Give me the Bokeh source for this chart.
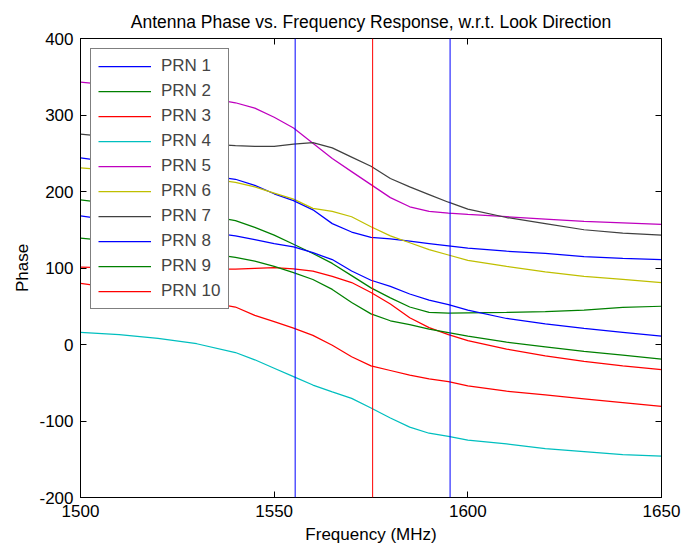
from bokeh.plotting import figure
from bokeh.models import (Range1d, FixedTicker, LinearAxis, Span, Legend, LegendItem, Title)
from bokeh.embed import file_html
from bokeh.resources import INLINE

freq = [1500, 1510, 1520, 1530, 1540, 1545, 1550, 1555, 1560, 1565, 1570,
        1575, 1580, 1585, 1590, 1595, 1600, 1610, 1620, 1630, 1640, 1650]

prn1 = [244, 237, 230, 223, 216, 208, 197, 188, 176, 158, 147,
        140, 138, 135, 132, 129, 126, 122, 119, 115, 112.5, 111]
prn2 = [189, 183, 177, 171, 162, 153, 143, 131, 119, 106, 90,
        74, 61, 49, 42, 41, 41.5, 42, 43, 45, 48.5, 50]
prn3 = [101, 100, 99, 98.5, 98.5, 99.5, 100.5, 99, 96, 89, 81,
        68, 53, 35, 22, 13, 5, -6, -15, -22, -28, -33]
prn4 = [15.7, 13, 8, 1, -10.5, -20, -31, -42, -53, -62, -70.5,
        -83, -96, -108, -116, -120, -125, -130, -136, -140, -144, -146]
prn5 = [343, 338, 332, 325, 316, 309, 297, 283, 263, 243, 226,
        209, 192, 180, 174, 171.6, 170, 167, 164, 161, 159, 157]
prn6 = [231, 227, 223, 219, 212, 206, 198, 190, 178, 174, 167,
        154, 142, 133, 124, 117, 110, 102, 95, 89, 85, 81]
prn7 = [275, 270, 266, 263, 260, 259, 259, 262, 264, 257, 245,
        233, 217, 206, 196, 186, 177, 166, 158, 150, 145.5, 143]
prn8 = [168, 161, 155, 149, 142, 137, 132, 127.5, 120, 111, 96,
        84, 76, 66, 58, 52, 45, 34, 27, 21, 16, 11]
prn9 = [139, 134, 128, 121, 114, 109, 102, 94, 85, 72, 55,
        40, 31, 26, 20, 15.5, 11, 3, -3, -9, -14, -19]
prn10 = [80, 73, 66, 58, 49, 38, 30, 21.5, 12, -1, -16,
         -28, -34, -40, -45, -48.5, -54, -61, -66, -71, -76, -81]

series_names = ["PRN 1", "PRN 2", "PRN 3", "PRN 4", "PRN 5",
                "PRN 6", "PRN 7", "PRN 8", "PRN 9", "PRN 10"]
series_values = [prn1, prn2, prn3, prn4, prn5, prn6, prn7, prn8, prn9, prn10]
series_colors = ["#0000ff", "#008000", "#ff0000", "#00bfbf", "#bf00bf",
                 "#bfbf00", "#404040", "#0000ff", "#008000", "#ff0000"]

marker_freqs = [1555.42, 1575.42, 1595.42]
marker_colors = ["#0000ff", "#ff0000", "#0000ff"]

x_ticks = [1500, 1550, 1600, 1650]
y_ticks = [-200, -100, 0, 100, 200, 300, 400]
y_tick_labels = ["-200", "-100", "0", "100", "200", "300", "400"]

FONT = "Liberation Sans"
FS = "17px"

p = figure(width=694, height=548, output_backend="svg", toolbar_location=None,
           x_range=Range1d(1500, 1650), y_range=Range1d(-200, 400),
           min_border_left=80, min_border_right=33, min_border_top=38,
           min_border_bottom=51, background_fill_color="white",
           border_fill_color="white")
p.grid.visible = False
p.outline_line_color = "black"
p.outline_line_width = 1

p.title = Title(text="Antenna Phase vs. Frequency Response, w.r.t. Look Direction",
                align="center", text_font=FONT, text_font_size="17.5px",
                text_font_style="normal", text_color="black", standoff=14)

def style_axis(ax, show_labels=True):
    ax.axis_line_color = "black"
    ax.axis_line_width = 1
    ax.major_tick_in = 6
    ax.major_tick_out = 0
    ax.minor_tick_line_color = None
    ax.major_tick_line_color = "black"
    ax.major_label_text_font = FONT
    ax.axis_label_text_font = FONT
    ax.axis_label_text_font_size = FS
    ax.axis_label_text_font_style = "normal"
    ax.axis_label_text_color = "black"
    if show_labels:
        ax.major_label_text_font_size = FS
        ax.major_label_text_color = "black"
    else:
        ax.major_label_text_font_size = "0px"
        ax.major_label_text_color = None
        ax.major_label_standoff = 0
        ax.axis_label_standoff = 0

p.xaxis.ticker = FixedTicker(ticks=x_ticks)
p.yaxis.ticker = FixedTicker(ticks=y_ticks)
p.yaxis.major_label_overrides = {t: s for t, s in zip(y_ticks, y_tick_labels)}
p.xaxis.axis_label = "Frequency (MHz)"
p.yaxis.axis_label = "Phase"
style_axis(p.xaxis[0])
style_axis(p.yaxis[0])
p.xaxis.major_label_standoff = 7
p.xaxis.axis_label_standoff = 5
p.yaxis.major_label_standoff = 7
p.yaxis.axis_label_standoff = 4

top_ax = LinearAxis(ticker=FixedTicker(ticks=x_ticks))
style_axis(top_ax, show_labels=False)
p.add_layout(top_ax, "above")
right_ax = LinearAxis(ticker=FixedTicker(ticks=y_ticks))
style_axis(right_ax, show_labels=False)
p.add_layout(right_ax, "right")

for f, c in zip(marker_freqs, marker_colors):
    p.add_layout(Span(location=f, dimension="height", line_color=c, line_width=1))

items = []
for name, vals, col in zip(series_names, series_values, series_colors):
    r = p.line(freq, vals, line_color=col, line_width=1.25)
    items.append(LegendItem(label=name, renderers=[r]))

legend = Legend(items=items, location="top_left", margin=10, padding=7,
                spacing=5, label_height=20, glyph_height=20, glyph_width=53,
                label_standoff=10, label_text_font=FONT, label_text_font_size=FS,
                border_line_color="black", border_line_width=1,
                background_fill_color="white", background_fill_alpha=1)
p.add_layout(legend, "center")

open("out.html", "w").write(file_html(p, INLINE))
